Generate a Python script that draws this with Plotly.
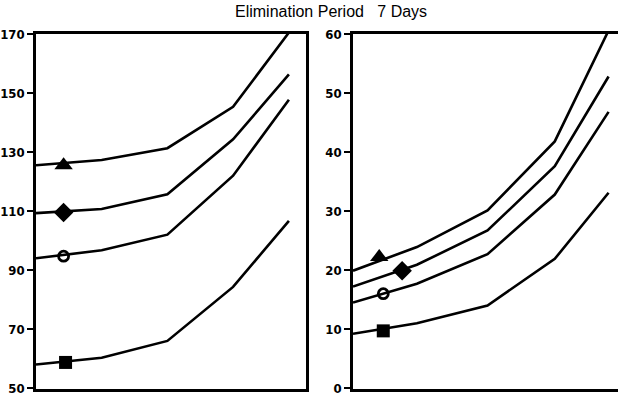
import plotly.graph_objects as go

# ---- data ----
x_pts = [0, 1, 2, 3, 3.85]
left_triangle = [125.5, 127.3, 131.3, 145.3, 170.5]
left_diamond = [109.3, 110.7, 115.7, 134.3, 156.3]
left_circle = [94.0, 96.7, 102.0, 122.0, 147.7]
left_square = [58.0, 60.3, 66.0, 84.3, 106.7]

x_pts_r = [0, 0.95, 2, 3, 3.8]
right_triangle = [19.9, 23.9, 30.1, 41.8, 60.6]
right_diamond = [17.2, 20.9, 26.7, 37.6, 52.8]
right_circle = [14.5, 17.7, 22.7, 32.8, 46.8]
right_square = [9.2, 11.0, 14.0, 21.9, 33.1]

left_marker_x = [0.42, 0.42, 0.42, 0.45]
left_marker_y = [125.5, 109.5, 94.7, 58.7]
right_marker_x = [0.39, 0.73, 0.45, 0.45]
right_marker_y = [22.2, 19.9, 16.0, 9.7]
marker_symbols = ["triangle-up", "diamond", "circle-open", "square"]

left_ticks = [50, 70, 90, 110, 130, 150, 170]
right_ticks = [0, 10, 20, 30, 40, 50, 60]
title_text = "Elimination Period\u00a0\u00a0 7 Days"

W, H = 618, 396
fig = go.Figure()

line_style = dict(color="black", width=2.6)
for ys in [left_triangle, left_diamond, left_circle, left_square]:
    fig.add_trace(go.Scatter(x=x_pts, y=ys, mode="lines", line=line_style,
                             xaxis="x", yaxis="y", showlegend=False))
for ys in [right_triangle, right_diamond, right_circle, right_square]:
    fig.add_trace(go.Scatter(x=x_pts_r, y=ys, mode="lines", line=line_style,
                             xaxis="x2", yaxis="y2", showlegend=False))

sizes = {"triangle-up": 16, "diamond": 15, "circle-open": 10, "square": 13}
for (mxs, mys, xa, ya) in [(left_marker_x, left_marker_y, "x", "y"),
                           (right_marker_x, right_marker_y, "x2", "y2")]:
    for mx, my, sym in zip(mxs, mys, marker_symbols):
        fig.add_trace(go.Scatter(x=[mx], y=[my], mode="markers",
                                 marker=dict(symbol=sym, size=sizes[sym], color="black",
                                             line=dict(color="black", width=2.8 if sym == "circle-open" else 0)),
                                 xaxis=xa, yaxis=ya, showlegend=False, cliponaxis=False))

tick_font = dict(family="Liberation Sans Narrow, DejaVu Sans Condensed, Arial Narrow, sans-serif",
                 size=13, color="black", weight="bold")
ydom = [(H - 389) / H, (H - 34) / H]

common_x = dict(showgrid=False, zeroline=False, showticklabels=False, ticks="",
                showline=True, linecolor="black", linewidth=2.5, automargin=False)
common_y = dict(showgrid=False, zeroline=False, showline=True, linecolor="black",
                linewidth=2.5, ticks="outside", ticklen=6, tickwidth=1.5, tickcolor="black",
                tickfont=tick_font, domain=ydom, ticklabeloverflow="allow", automargin=False)

fig.update_layout(
    width=W, height=H,
    margin=dict(l=0, r=0, t=0, b=0, autoexpand=False),
    paper_bgcolor="white", plot_bgcolor="white",
    xaxis=dict(common_x, domain=[36 / W, 306 / W], range=[0, 4.11], mirror=True, anchor="y"),
    yaxis=dict(common_y, range=[49.7, 170], tickvals=left_ticks, mirror=True, anchor="x"),
    xaxis2=dict(common_x, domain=[353 / W, 1.0], range=[0, 3.94], mirror=True, anchor="y2"),
    yaxis2=dict(common_y, range=[-0.15, 60], tickvals=right_ticks, anchor="x2"),
    annotations=[dict(text=title_text, x=331 / W, y=1 - 12 / H, xref="paper", yref="paper",
                      xanchor="center", yanchor="middle", showarrow=False,
                      font=dict(family="Liberation Sans, Arial, sans-serif", size=16, color="black"))],
)

fig.write_html("out.html")
